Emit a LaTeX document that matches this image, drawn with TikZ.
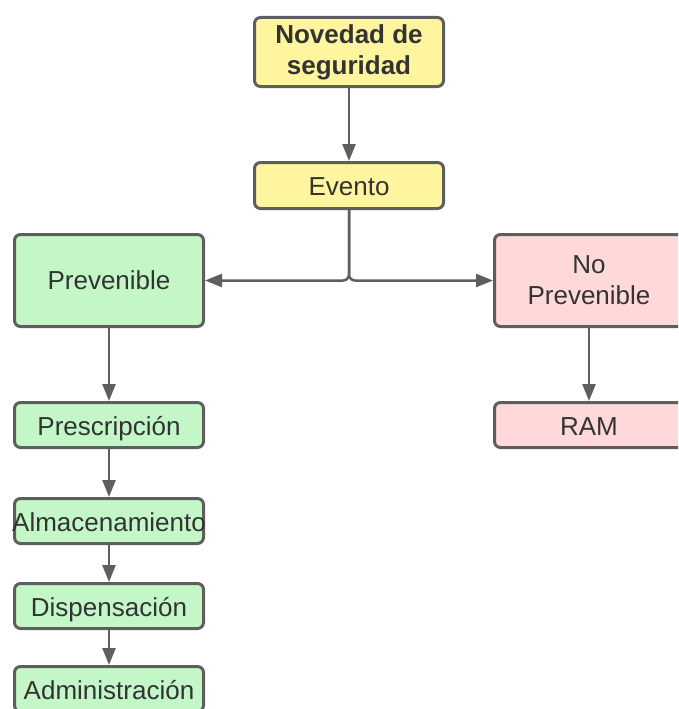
\documentclass[tikz,border=0pt]{standalone}
\usepackage{fontspec}
\setmainfont{Liberation Sans}
\usetikzlibrary{arrows.meta}
\definecolor{edgegray}{HTML}{5E5E5E}
\definecolor{txtgray}{HTML}{333333}
\definecolor{boxyellow}{HTML}{FFF59E}
\definecolor{boxgreen}{HTML}{C3F7C8}
\definecolor{boxpink}{HTML}{FFD8DA}

\begin{document}
\begin{tikzpicture}[x=1pt, y=-1pt, >={Triangle[length=17pt,width=13pt]},
  box/.style={draw=edgegray, line width=3pt, rounded corners=6pt,
    minimum width=189pt, inner sep=0pt, align=center, text=txtgray,
    font=\fontsize{26}{31}\selectfont},
  oneline/.style={minimum height=45pt, text height=20pt, text depth=0pt},
  yellowbox/.style={box, fill=boxyellow},
  greenbox/.style={box, fill=boxgreen},
  pinkbox/.style={box, fill=boxpink},
  link/.style={->, draw=edgegray, line width=2.5pt}]
  \clip (0,0) rectangle (678,709);

  % Top of the chart
  \node[yellowbox, minimum height=69pt, font=\fontsize{26}{31}\selectfont\bfseries]
    (nov) at (349,52) {Novedad de\\seguridad};
  \node[yellowbox, oneline, minimum height=46pt] (ev) at (349,185.5) {Evento};

  % Two branches
  \node[greenbox, minimum height=92pt] (prev) at (109,280.5) {Prevenible};
  \node[pinkbox, minimum height=92pt] (noprev) at (589,280.5) {No\\Prevenible};

  % Preventable chain
  \node[greenbox, oneline] (presc) at (109,425) {Prescripción};
  \node[greenbox, oneline] (alm) at (109,521)
    {\makebox[180pt]{Almacenamiento}};
  \node[greenbox, oneline] (disp) at (109,606) {Dispensación};
  \node[greenbox, oneline] (adm) at (109,689) {Administración};

  % Non preventable
  \node[pinkbox, oneline] (ram) at (589,425) {RAM};

  % Connectors
  \draw[link] (nov) -- (ev);
  \draw[link, rounded corners=6pt] (ev.south) |- (prev.east);
  \draw[link, rounded corners=6pt] (ev.south) |- (noprev.west);
  \draw[link] (prev) -- (presc);
  \draw[link] (presc) -- (alm);
  \draw[link] (alm) -- (disp);
  \draw[link] (disp) -- (adm);
  \draw[link] (noprev) -- (ram);
\end{tikzpicture}
\end{document}
